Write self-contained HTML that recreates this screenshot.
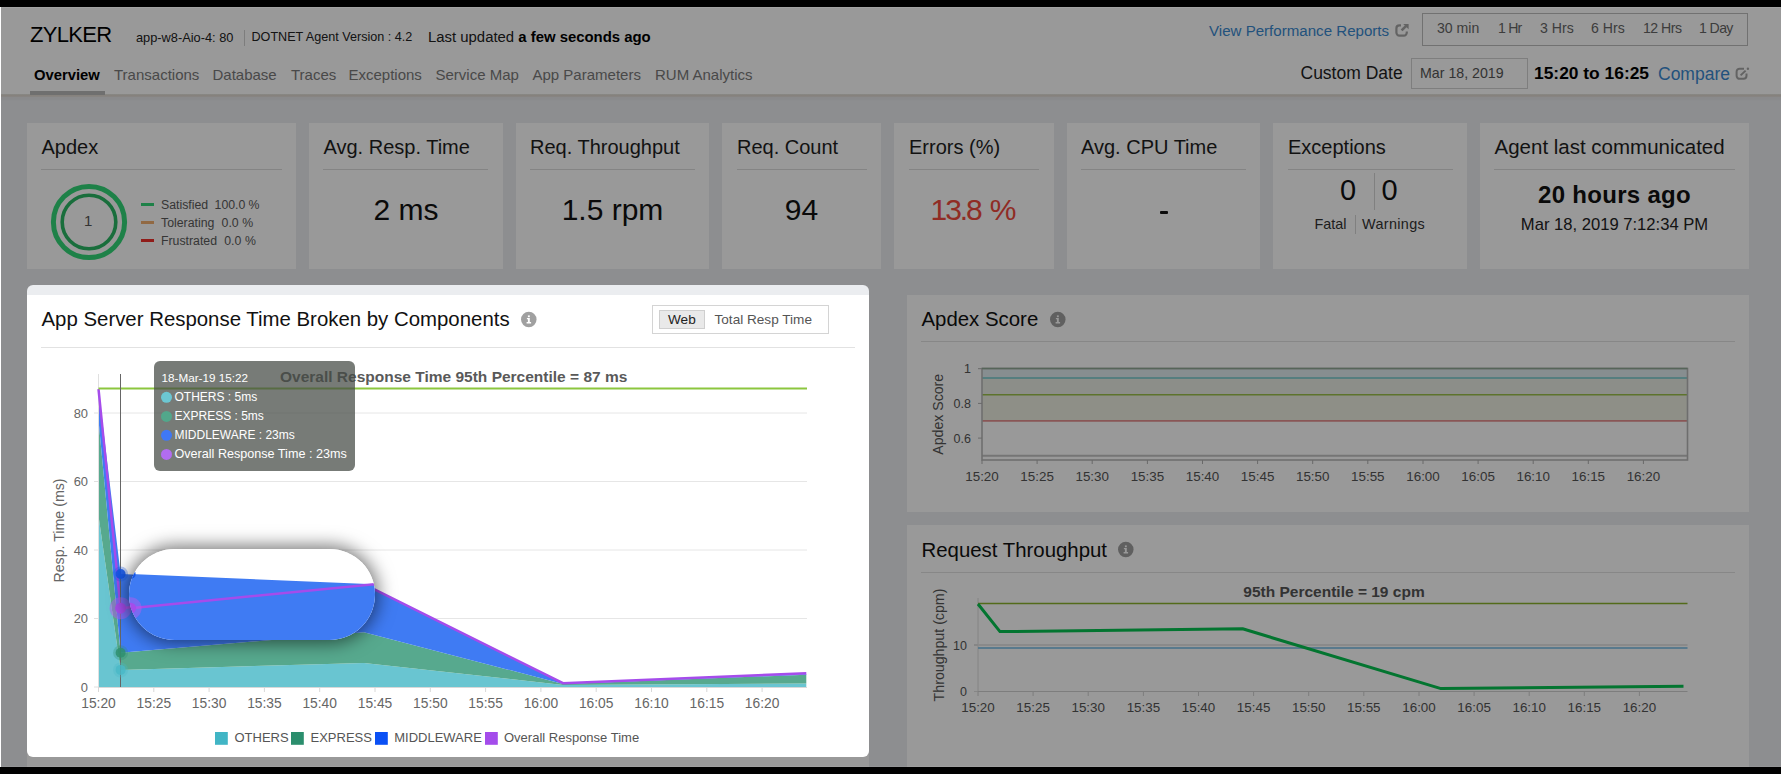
<!DOCTYPE html>
<html><head><meta charset="utf-8">
<style>
*{box-sizing:border-box}
html,body{margin:0;padding:0}
body{width:1781px;height:774px;overflow:hidden;position:relative;background:#ebedf0;font-family:"Liberation Sans",sans-serif;color:#000}
.a{position:absolute;white-space:nowrap;line-height:1}
.card{position:absolute;top:123px;height:146px;background:#fff}
.ct{position:absolute;font-size:20px;color:#1e1e1e;top:137px;line-height:1;white-space:nowrap}
.sep{position:absolute;height:1px;background:#dcdcdc;top:169px}
.val{position:absolute;font-size:30px;color:#111;top:195px;line-height:1;white-space:nowrap;text-align:center}
.nav{position:absolute;top:67px;font-size:15px;color:#7a7a7a;line-height:1;white-space:nowrap}
.tr{position:absolute;top:21px;font-size:14.1px;color:#666;line-height:1;white-space:nowrap}
svg{position:absolute;left:0;top:0;overflow:visible}
</style></head><body>

<!-- left white column -->
<div class="a" style="left:0;top:0;width:1px;height:774px;background:#fff;z-index:50"></div>

<!-- ============ HEADER ============ -->
<div class="a" style="left:0;top:7px;width:1781px;height:87px;background:#fff"></div>
<div class="a" style="left:0;top:94px;width:1781px;height:7px;background:linear-gradient(#e4e4df,#ddd5cb 28%,#e6e6e8 45%,#e7e8eb 80%,#ebedf0)"></div>
<div class="a" style="left:30px;top:23.5px;font-size:22px;letter-spacing:-.7px;color:#000">ZYLKER</div>
<div class="a" style="left:136px;top:31.5px;font-size:12.8px;color:#222">app-w8-Aio-4: 80</div>
<div class="a" style="left:244px;top:30px;width:1px;height:16px;background:#d0d0d0"></div>
<div class="a" style="left:251.5px;top:31px;font-size:12.6px;color:#222">DOTNET Agent Version : 4.2</div>
<div class="a" style="left:428px;top:30px;font-size:14.9px;color:#222">Last updated <b style="color:#000">a few seconds ago</b></div>

<div class="nav" style="left:34px;top:68px;color:#000;font-weight:bold;font-size:14.8px">Overview</div>
<div class="a" style="left:30px;top:91px;width:75px;height:4px;background:#bababa"></div>
<div class="nav" style="left:114px">Transactions</div>
<div class="nav" style="left:212.5px">Database</div>
<div class="nav" style="left:291px">Traces</div>
<div class="nav" style="left:348.5px">Exceptions</div>
<div class="nav" style="left:435.5px">Service Map</div>
<div class="nav" style="left:532.5px">App Parameters</div>
<div class="nav" style="left:655px">RUM Analytics</div>

<div class="a" style="left:1209px;top:23px;font-size:15.1px;color:#3a89d0">View Performance Reports</div>
<svg width="16" height="16" style="left:1394px;top:22px" viewBox="0 0 16 16">
  <path d="M7 3.4H5.4A3 3 0 0 0 2.4 6.4V10.6A3 3 0 0 0 5.4 13.6H9.8A3 3 0 0 0 12.8 10.6V9.6" fill="none" stroke="#a6a6a6" stroke-width="2.2"/>
  <path d="M7.6 8.4L12.2 3.8" fill="none" stroke="#a6a6a6" stroke-width="2.6"/>
  <path d="M9.2 1.9H14.6V7.3z" fill="#a6a6a6"/>
</svg>
<div class="a" style="left:1422px;top:13px;width:326px;height:33px;border:1px solid #bdbdbd"></div>
<div class="tr" style="left:1437px">30 min</div>
<div class="tr" style="left:1498px;letter-spacing:-.8px">1 Hr</div>
<div class="tr" style="left:1540px">3 Hrs</div>
<div class="tr" style="left:1591px">6 Hrs</div>
<div class="tr" style="left:1643px;letter-spacing:-.5px">12 Hrs</div>
<div class="tr" style="left:1699px;letter-spacing:-.6px">1 Day</div>

<div class="a" style="left:1300.5px;top:65px;font-size:17.5px;color:#1e1e1e">Custom Date</div>
<div class="a" style="left:1411px;top:58px;width:117px;height:31px;border:1px solid #d2d2d2"></div>
<div class="a" style="left:1420px;top:66px;font-size:14.2px;color:#555">Mar 18, 2019</div>
<div class="a" style="left:1534px;top:65px;font-size:17.4px;color:#000;font-weight:bold">15:20 to 16:25</div>
<div class="a" style="left:1658px;top:65.5px;font-size:17.5px;color:#3a89d0">Compare</div>
<svg width="14" height="14" style="left:1735px;top:67px" viewBox="0 0 14 14">
  <path d="M9 1.7H4.6A3 3 0 0 0 1.6 4.7V8.8A3 3 0 0 0 4.6 11.8H8.5A3 3 0 0 0 11.5 8.8V6.6" fill="none" stroke="#a6a6a6" stroke-width="2"/>
  <path d="M5.6 8.4L10.6 3.6" fill="none" stroke="#a6a6a6" stroke-width="2"/>
  <circle cx="12.9" cy="1.8" r="1.2" fill="#a6a6a6"/>
</svg>

<!-- ============ CARDS ============ -->
<div class="card" style="left:27px;width:269px"></div>
<div class="ct" style="left:41.5px">Apdex</div>
<div class="sep" style="left:41px;width:241px"></div>
<svg width="90" height="90" style="left:43.5px;top:177px" viewBox="0 0 90 90">
  <circle cx="45" cy="45" r="35.6" fill="none" stroke="#33d878" stroke-width="5"/>
  <circle cx="45" cy="45" r="26.8" fill="none" stroke="#2ab764" stroke-width="3.6"/>
</svg>
<div class="a" style="left:84px;top:213px;font-size:15px;color:#555">1</div>
<div class="a" style="left:141px;top:203px;width:13px;height:3px;background:#33d878"></div>
<div class="a" style="left:141px;top:221px;width:13px;height:3px;background:#f2b070"></div>
<div class="a" style="left:141px;top:239px;width:13px;height:3px;background:#f0302a"></div>
<div class="a" style="left:161px;top:198.5px;font-size:12.3px;color:#5a5a5a;word-spacing:-.2px">Satisfied&nbsp; 100.0 %</div>
<div class="a" style="left:161px;top:216.5px;font-size:12.3px;color:#5a5a5a;word-spacing:.2px">Tolerating&nbsp; 0.0 %</div>
<div class="a" style="left:161px;top:234.5px;font-size:12.3px;color:#5a5a5a;word-spacing:.2px">Frustrated&nbsp; 0.0 %</div>

<div class="card" style="left:309px;width:194px"></div>
<div class="ct" style="left:323.5px">Avg. Resp. Time</div>
<div class="sep" style="left:323px;width:165px"></div>
<div class="val" style="left:309px;width:194px">2 ms</div>

<div class="card" style="left:516px;width:193px"></div>
<div class="ct" style="left:530px">Req. Throughput</div>
<div class="sep" style="left:530px;width:165px"></div>
<div class="val" style="left:516px;width:193px">1.5 rpm</div>

<div class="card" style="left:722px;width:159px"></div>
<div class="ct" style="left:737px">Req. Count</div>
<div class="sep" style="left:737px;width:130px"></div>
<div class="val" style="left:722px;width:159px">94</div>

<div class="card" style="left:894px;width:160px"></div>
<div class="ct" style="left:909px">Errors (%)</div>
<div class="sep" style="left:909px;width:130px"></div>
<div class="val" style="left:892.5px;width:160px;color:#f04a3c;font-size:30px;letter-spacing:-2.1px;word-spacing:3px;top:195px">13.8 %</div>

<div class="card" style="left:1067px;width:193px"></div>
<div class="ct" style="left:1081px">Avg. CPU Time</div>
<div class="sep" style="left:1081px;width:165px"></div>
<div class="a" style="left:1159.5px;top:211px;width:8px;height:2.6px;background:#151515;border-radius:1px"></div>

<div class="card" style="left:1273px;width:194px"></div>
<div class="ct" style="left:1288px">Exceptions</div>
<div class="sep" style="left:1288px;width:165px"></div>
<div class="a" style="left:1340px;top:176px;font-size:29px;color:#111">0</div>
<div class="a" style="left:1374px;top:173px;width:1px;height:37px;background:#d5d5d5"></div>
<div class="a" style="left:1381.5px;top:176px;font-size:29px;color:#111">0</div>
<div class="a" style="left:1314.5px;top:217px;font-size:14.4px;color:#333">Fatal</div>
<div class="a" style="left:1355px;top:215px;width:1px;height:19px;background:#d5d5d5"></div>
<div class="a" style="left:1362px;top:217px;font-size:14.4px;letter-spacing:.35px;color:#333">Warnings</div>

<div class="card" style="left:1480px;width:269px"></div>
<div class="ct" style="left:1494.5px;font-size:20.5px">Agent last communicated</div>
<div class="sep" style="left:1494px;width:241px"></div>
<div class="a" style="left:1480px;width:269px;text-align:center;top:182.5px;font-size:24px;font-weight:bold;color:#111;letter-spacing:.3px">20 hours ago</div>
<div class="a" style="left:1480px;width:269px;text-align:center;top:217px;font-size:16.6px;color:#222">Mar 18, 2019 7:12:34 PM</div>

<!-- ============ LEFT CHART PANEL ============ -->
<div class="a" style="left:27px;top:295px;width:842px;height:480px;background:#fff"></div>
<div class="a" style="left:41.5px;top:309px;font-size:20.4px;color:#111">App Server Response Time Broken by Components</div>
<svg width="16" height="16" style="left:521px;top:311.5px" viewBox="0 0 16 16"><circle cx="7.8" cy="7.6" r="7.75" fill="#a0a0a0"/><rect x="6.9" y="3.4" width="1.9" height="1.8" fill="#fff"/><path d="M5.9 6.1h2.9v4h1.3v1.3H5.6v-1.3h1.3V7.3h-1z" fill="#fff"/></svg>
<div class="a" style="left:652px;top:305px;width:177px;height:29px;border:1px solid #d4d4d4"></div>
<div class="a" style="left:659px;top:310px;width:46px;height:19px;border:1px solid #cfcfcf;background:#e9e9e9"></div>
<div class="a" style="left:668px;top:313px;font-size:13.6px;color:#222">Web</div>
<div class="a" style="left:714.5px;top:313px;font-size:13.6px;color:#555">Total Resp Time</div>
<div class="a" style="left:41px;top:347px;width:814px;height:1px;background:#e2e2e2"></div>
<!--BEGIN CHARTL-->
<svg width="1781" height="774" viewBox="0 0 1781 774" style="left:0;top:0">
<line x1="98.5" x2="807" y1="618.5" y2="618.5" stroke="#e6e6e6" stroke-width="1"/>
<line x1="98.5" x2="807" y1="550.0" y2="550.0" stroke="#e6e6e6" stroke-width="1"/>
<line x1="98.5" x2="807" y1="481.5" y2="481.5" stroke="#e6e6e6" stroke-width="1"/>
<line x1="98.5" x2="807" y1="413.0" y2="413.0" stroke="#e6e6e6" stroke-width="1"/>
<text x="88" y="691.6" text-anchor="end" font-size="12.9" fill="#666">0</text>
<line x1="94" x2="98.5" y1="687.0" y2="687.0" stroke="#e0e0e0" stroke-width="1"/>
<text x="88" y="623.1" text-anchor="end" font-size="12.9" fill="#666">20</text>
<line x1="94" x2="98.5" y1="618.5" y2="618.5" stroke="#e0e0e0" stroke-width="1"/>
<text x="88" y="554.6" text-anchor="end" font-size="12.9" fill="#666">40</text>
<line x1="94" x2="98.5" y1="550.0" y2="550.0" stroke="#e0e0e0" stroke-width="1"/>
<text x="88" y="486.1" text-anchor="end" font-size="12.9" fill="#666">60</text>
<line x1="94" x2="98.5" y1="481.5" y2="481.5" stroke="#e0e0e0" stroke-width="1"/>
<text x="88" y="417.6" text-anchor="end" font-size="12.9" fill="#666">80</text>
<line x1="94" x2="98.5" y1="413.0" y2="413.0" stroke="#e0e0e0" stroke-width="1"/>
<line x1="98.5" x2="98.5" y1="687" y2="692" stroke="#d8d8d8" stroke-width="1"/>
<text x="98.5" y="708" text-anchor="middle" font-size="13.8" fill="#666">15:20</text>
<line x1="153.8" x2="153.8" y1="687" y2="692" stroke="#d8d8d8" stroke-width="1"/>
<text x="153.8" y="708" text-anchor="middle" font-size="13.8" fill="#666">15:25</text>
<line x1="209.1" x2="209.1" y1="687" y2="692" stroke="#d8d8d8" stroke-width="1"/>
<text x="209.1" y="708" text-anchor="middle" font-size="13.8" fill="#666">15:30</text>
<line x1="264.4" x2="264.4" y1="687" y2="692" stroke="#d8d8d8" stroke-width="1"/>
<text x="264.4" y="708" text-anchor="middle" font-size="13.8" fill="#666">15:35</text>
<line x1="319.7" x2="319.7" y1="687" y2="692" stroke="#d8d8d8" stroke-width="1"/>
<text x="319.7" y="708" text-anchor="middle" font-size="13.8" fill="#666">15:40</text>
<line x1="375.0" x2="375.0" y1="687" y2="692" stroke="#d8d8d8" stroke-width="1"/>
<text x="375.0" y="708" text-anchor="middle" font-size="13.8" fill="#666">15:45</text>
<line x1="430.3" x2="430.3" y1="687" y2="692" stroke="#d8d8d8" stroke-width="1"/>
<text x="430.3" y="708" text-anchor="middle" font-size="13.8" fill="#666">15:50</text>
<line x1="485.6" x2="485.6" y1="687" y2="692" stroke="#d8d8d8" stroke-width="1"/>
<text x="485.6" y="708" text-anchor="middle" font-size="13.8" fill="#666">15:55</text>
<line x1="540.9" x2="540.9" y1="687" y2="692" stroke="#d8d8d8" stroke-width="1"/>
<text x="540.9" y="708" text-anchor="middle" font-size="13.8" fill="#666">16:00</text>
<line x1="596.2" x2="596.2" y1="687" y2="692" stroke="#d8d8d8" stroke-width="1"/>
<text x="596.2" y="708" text-anchor="middle" font-size="13.8" fill="#666">16:05</text>
<line x1="651.5" x2="651.5" y1="687" y2="692" stroke="#d8d8d8" stroke-width="1"/>
<text x="651.5" y="708" text-anchor="middle" font-size="13.8" fill="#666">16:10</text>
<line x1="706.8" x2="706.8" y1="687" y2="692" stroke="#d8d8d8" stroke-width="1"/>
<text x="706.8" y="708" text-anchor="middle" font-size="13.8" fill="#666">16:15</text>
<line x1="762.1" x2="762.1" y1="687" y2="692" stroke="#d8d8d8" stroke-width="1"/>
<text x="762.1" y="708" text-anchor="middle" font-size="13.8" fill="#666">16:20</text>
<polygon points="98.5,515.8 120.6,669.9 363.9,663.0 563.0,684.9 806.3,683.6 806.3,687 98.5,687" fill="#69c5d1"/>
<polygon points="98.5,419.9 120.6,652.8 363.9,632.2 563.0,683.9 806.3,674.7 806.3,683.6 563.0,684.9 363.9,663.0 120.6,669.9 98.5,515.8" fill="#57a98e"/>
<polygon points="98.5,389.0 120.6,574.0 363.9,584.2 563.0,683.2 806.3,674.0 806.3,674.7 563.0,683.9 363.9,632.2 120.6,652.8 98.5,419.9" fill="#3f7bf3"/>
<line x1="98.5" x2="98.5" y1="374" y2="687" stroke="#e0e0e0" stroke-width="1"/>
<line x1="98.5" x2="807" y1="687.5" y2="687.5" stroke="#d8d8d8" stroke-width="1"/>
<polyline points="98.5,389.0 120.6,608.2 363.9,584.2 563.0,683.2 806.3,673.3" fill="none" stroke="#a54ceb" stroke-width="2.5" stroke-linejoin="round"/>
<line x1="98.5" x2="807" y1="388.5" y2="388.5" stroke="#8cc63f" stroke-width="2"/>
<text x="280" y="382" font-size="15.5" font-weight="bold" fill="#595959">Overall Response Time 95th Percentile = 87 ms</text>
<line x1="120.5" x2="120.5" y1="374" y2="687" stroke="#666" stroke-width="1"/>
<circle cx="120.6" cy="669.9" r="7.5" fill="#48b8c7" opacity=".3"/>
<circle cx="120.6" cy="669.9" r="5" fill="#48b8c7" opacity=".8"/>
<circle cx="120.6" cy="652.8" r="7.5" fill="#2e8f6e" opacity=".3"/>
<circle cx="120.6" cy="652.8" r="5" fill="#2e8f6e" opacity=".85"/>
<circle cx="120.6" cy="574.0" r="7.5" fill="#1456e8" opacity=".3"/>
<circle cx="120.6" cy="574.0" r="5" fill="#1456e8" opacity=".9"/>
<circle cx="120.6" cy="608.2" r="11" fill="#b45cf0" opacity=".5"/>
<circle cx="120.6" cy="608.2" r="5.5" fill="#a54ceb"/>
<text transform="translate(64 530.5) rotate(-90)" text-anchor="middle" font-size="14.2" fill="#666">Resp. Time (ms)</text>
<rect x="215" y="732" width="12.8" height="12.8" fill="#41b5c5"/>
<text x="234.5" y="741.7" font-size="13" fill="#555">OTHERS</text>
<rect x="291" y="732" width="12.8" height="12.8" fill="#2b8e6d"/>
<text x="310.5" y="741.7" font-size="13" fill="#555">EXPRESS</text>
<rect x="375" y="732" width="12.8" height="12.8" fill="#0a50f5"/>
<text x="394.2" y="741.7" font-size="13" fill="#555">MIDDLEWARE</text>
<rect x="485" y="732" width="12.8" height="12.8" fill="#a44ceb"/>
<text x="504" y="741.7" font-size="13" fill="#555">Overall Response Time</text>
<rect x="154" y="361" width="201" height="110" rx="6" fill="rgba(68,74,68,0.73)"/>
<text x="161.5" y="381.7" font-size="11.7" fill="#fff">18-Mar-19 15:22</text>
<circle cx="166.5" cy="397.3" r="5.5" fill="#6cc7d3"/>
<text x="174.5" y="401.2" font-size="12.0" fill="#fff">OTHERS : 5ms</text>
<circle cx="166.5" cy="416.4" r="5.5" fill="#52a78b"/>
<text x="174.5" y="420.3" font-size="12.0" fill="#fff">EXPRESS : 5ms</text>
<circle cx="166.5" cy="435.3" r="5.5" fill="#3f78f5"/>
<text x="174.5" y="439.2" font-size="12.0" fill="#fff">MIDDLEWARE : 23ms</text>
<circle cx="166.5" cy="454.4" r="5.5" fill="#b26cf0"/>
<text x="174.5" y="458.3" font-size="12.6" fill="#fff">Overall Response Time : 23ms</text>
</svg>
<div class="a" style="left:129px;top:549px;width:246px;height:91px;border-radius:46px;overflow:hidden;box-shadow:0 0 18px 3px rgba(0,0,0,.55)">
<svg width="246" height="91" viewBox="119 549 246 91" style="left:0;top:0">
<rect x="100" y="540" width="300" height="110" fill="#fff"/>
<polygon points="90,571.9 120.6,574.0 363.9,584.2 563.0,683.2 400,700 90,700" fill="#3f7bf3"/>
<polyline points="120.6,608.2 363.9,584.2 563.0,683.2" fill="none" stroke="#a54ceb" stroke-width="2.5"/>
<circle cx="120.6" cy="574.0" r="5" fill="#1456e8"/>
<circle cx="120.6" cy="608.2" r="11" fill="#b45cf0" opacity=".5"/>
<circle cx="120.6" cy="608.2" r="5.5" fill="#a54ceb"/>
</svg></div>
<!--END CHARTL-->


<!-- ============ RIGHT PANELS ============ -->
<div class="a" style="left:907px;top:295px;width:842px;height:217px;background:#fff"></div>
<div class="a" style="left:907px;top:525px;width:842px;height:260px;background:#fff"></div>
<div class="a" style="left:921.5px;top:309px;font-size:20.4px;color:#111">Apdex Score</div>
<svg width="16" height="16" style="left:1049.5px;top:311.5px" viewBox="0 0 16 16"><circle cx="7.8" cy="7.6" r="7.75" fill="#a0a0a0"/><rect x="6.9" y="3.4" width="1.9" height="1.8" fill="#fff"/><path d="M5.9 6.1h2.9v4h1.3v1.3H5.6v-1.3h1.3V7.3h-1z" fill="#fff"/></svg>
<div class="a" style="left:921px;top:341px;width:814px;height:1px;background:#e2e2e2"></div>
<div class="a" style="left:921.5px;top:540px;font-size:20.4px;color:#111">Request Throughput</div>
<svg width="16" height="16" style="left:1118px;top:541.5px" viewBox="0 0 16 16"><circle cx="7.8" cy="7.6" r="7.75" fill="#a0a0a0"/><rect x="6.9" y="3.4" width="1.9" height="1.8" fill="#fff"/><path d="M5.9 6.1h2.9v4h1.3v1.3H5.6v-1.3h1.3V7.3h-1z" fill="#fff"/></svg>
<div class="a" style="left:921px;top:572px;width:814px;height:1px;background:#e2e2e2"></div>
<!--BEGIN CHARTR-->
<svg width="1781" height="774" viewBox="0 0 1781 774" style="left:0;top:0">
<rect x="982" y="368.5" width="705.5" height="9.6" fill="#e2edf0"/>
<rect x="982" y="378.1" width="705.5" height="16.7" fill="#e9ede5"/>
<rect x="982" y="394.7" width="705.5" height="26.0" fill="#edeee2"/>
<line x1="982" x2="1687.5" y1="378.1" y2="378.1" stroke="#72c8cc" stroke-width="1.5"/>
<line x1="982" x2="1687.5" y1="394.7" y2="394.7" stroke="#9cc04a" stroke-width="1.5"/>
<line x1="982" x2="1687.5" y1="420.8" y2="420.8" stroke="#e58f8f" stroke-width="1.7"/>
<line x1="982" x2="1687.5" y1="455.8" y2="455.8" stroke="#c4c4c4" stroke-width="2"/>
<rect x="982" y="368.5" width="705.5" height="91.5" fill="none" stroke="#b8b8b8" stroke-width="1.6"/>
<line x1="982" x2="1687.5" y1="368.5" y2="368.5" stroke="#8fa894" stroke-width="1.6"/>
<line x1="978" x2="982" y1="368.7" y2="368.7" stroke="#b0b0b0" stroke-width="1"/>
<text x="971" y="373.2" text-anchor="end" font-size="12.5" fill="#555">1</text>
<line x1="978" x2="982" y1="403.4" y2="403.4" stroke="#b0b0b0" stroke-width="1"/>
<text x="971" y="407.9" text-anchor="end" font-size="12.5" fill="#555">0.8</text>
<line x1="978" x2="982" y1="438.1" y2="438.1" stroke="#b0b0b0" stroke-width="1"/>
<text x="971" y="442.6" text-anchor="end" font-size="12.5" fill="#555">0.6</text>
<line x1="982.0" x2="982.0" y1="460" y2="464" stroke="#b0b0b0" stroke-width="1"/>
<text x="982.0" y="480.7" text-anchor="middle" font-size="13.4" fill="#555">15:20</text>
<line x1="1037.1" x2="1037.1" y1="460" y2="464" stroke="#b0b0b0" stroke-width="1"/>
<text x="1037.1" y="480.7" text-anchor="middle" font-size="13.4" fill="#555">15:25</text>
<line x1="1092.2" x2="1092.2" y1="460" y2="464" stroke="#b0b0b0" stroke-width="1"/>
<text x="1092.2" y="480.7" text-anchor="middle" font-size="13.4" fill="#555">15:30</text>
<line x1="1147.4" x2="1147.4" y1="460" y2="464" stroke="#b0b0b0" stroke-width="1"/>
<text x="1147.4" y="480.7" text-anchor="middle" font-size="13.4" fill="#555">15:35</text>
<line x1="1202.5" x2="1202.5" y1="460" y2="464" stroke="#b0b0b0" stroke-width="1"/>
<text x="1202.5" y="480.7" text-anchor="middle" font-size="13.4" fill="#555">15:40</text>
<line x1="1257.6" x2="1257.6" y1="460" y2="464" stroke="#b0b0b0" stroke-width="1"/>
<text x="1257.6" y="480.7" text-anchor="middle" font-size="13.4" fill="#555">15:45</text>
<line x1="1312.7" x2="1312.7" y1="460" y2="464" stroke="#b0b0b0" stroke-width="1"/>
<text x="1312.7" y="480.7" text-anchor="middle" font-size="13.4" fill="#555">15:50</text>
<line x1="1367.8" x2="1367.8" y1="460" y2="464" stroke="#b0b0b0" stroke-width="1"/>
<text x="1367.8" y="480.7" text-anchor="middle" font-size="13.4" fill="#555">15:55</text>
<line x1="1423.0" x2="1423.0" y1="460" y2="464" stroke="#b0b0b0" stroke-width="1"/>
<text x="1423.0" y="480.7" text-anchor="middle" font-size="13.4" fill="#555">16:00</text>
<line x1="1478.1" x2="1478.1" y1="460" y2="464" stroke="#b0b0b0" stroke-width="1"/>
<text x="1478.1" y="480.7" text-anchor="middle" font-size="13.4" fill="#555">16:05</text>
<line x1="1533.2" x2="1533.2" y1="460" y2="464" stroke="#b0b0b0" stroke-width="1"/>
<text x="1533.2" y="480.7" text-anchor="middle" font-size="13.4" fill="#555">16:10</text>
<line x1="1588.3" x2="1588.3" y1="460" y2="464" stroke="#b0b0b0" stroke-width="1"/>
<text x="1588.3" y="480.7" text-anchor="middle" font-size="13.4" fill="#555">16:15</text>
<line x1="1643.4" x2="1643.4" y1="460" y2="464" stroke="#b0b0b0" stroke-width="1"/>
<text x="1643.4" y="480.7" text-anchor="middle" font-size="13.4" fill="#555">16:20</text>
<text transform="translate(943 414.3) rotate(-90)" text-anchor="middle" font-size="14.1" fill="#555">Apdex Score</text>
<line x1="978" x2="978" y1="598" y2="691.5" stroke="#dcdcdc" stroke-width="1"/>
<line x1="978" x2="1687.5" y1="691.5" y2="691.5" stroke="#d0d0d0" stroke-width="1"/>
<line x1="978" x2="1687.5" y1="645" y2="645" stroke="#e6e6e6" stroke-width="2"/>
<line x1="974" x2="978" y1="645" y2="645" stroke="#e0e0e0" stroke-width="2"/><line x1="974" x2="978" y1="691.5" y2="691.5" stroke="#e0e0e0" stroke-width="1"/>
<line x1="978" x2="1687.5" y1="648" y2="648" stroke="#94cbec" stroke-width="2"/>
<line x1="978" x2="1687.5" y1="603.5" y2="603.5" stroke="#8ab32c" stroke-width="1.5"/>
<text x="967" y="695.9" text-anchor="end" font-size="12.5" fill="#555">0</text>
<text x="967" y="649.9" text-anchor="end" font-size="12.5" fill="#555">10</text>
<line x1="978.0" x2="978.0" y1="691.5" y2="696" stroke="#d0d0d0" stroke-width="1"/>
<text x="978.0" y="711.5" text-anchor="middle" font-size="13.4" fill="#555">15:20</text>
<line x1="1033.1" x2="1033.1" y1="691.5" y2="696" stroke="#d0d0d0" stroke-width="1"/>
<text x="1033.1" y="711.5" text-anchor="middle" font-size="13.4" fill="#555">15:25</text>
<line x1="1088.2" x2="1088.2" y1="691.5" y2="696" stroke="#d0d0d0" stroke-width="1"/>
<text x="1088.2" y="711.5" text-anchor="middle" font-size="13.4" fill="#555">15:30</text>
<line x1="1143.4" x2="1143.4" y1="691.5" y2="696" stroke="#d0d0d0" stroke-width="1"/>
<text x="1143.4" y="711.5" text-anchor="middle" font-size="13.4" fill="#555">15:35</text>
<line x1="1198.5" x2="1198.5" y1="691.5" y2="696" stroke="#d0d0d0" stroke-width="1"/>
<text x="1198.5" y="711.5" text-anchor="middle" font-size="13.4" fill="#555">15:40</text>
<line x1="1253.6" x2="1253.6" y1="691.5" y2="696" stroke="#d0d0d0" stroke-width="1"/>
<text x="1253.6" y="711.5" text-anchor="middle" font-size="13.4" fill="#555">15:45</text>
<line x1="1308.7" x2="1308.7" y1="691.5" y2="696" stroke="#d0d0d0" stroke-width="1"/>
<text x="1308.7" y="711.5" text-anchor="middle" font-size="13.4" fill="#555">15:50</text>
<line x1="1363.8" x2="1363.8" y1="691.5" y2="696" stroke="#d0d0d0" stroke-width="1"/>
<text x="1363.8" y="711.5" text-anchor="middle" font-size="13.4" fill="#555">15:55</text>
<line x1="1419.0" x2="1419.0" y1="691.5" y2="696" stroke="#d0d0d0" stroke-width="1"/>
<text x="1419.0" y="711.5" text-anchor="middle" font-size="13.4" fill="#555">16:00</text>
<line x1="1474.1" x2="1474.1" y1="691.5" y2="696" stroke="#d0d0d0" stroke-width="1"/>
<text x="1474.1" y="711.5" text-anchor="middle" font-size="13.4" fill="#555">16:05</text>
<line x1="1529.2" x2="1529.2" y1="691.5" y2="696" stroke="#d0d0d0" stroke-width="1"/>
<text x="1529.2" y="711.5" text-anchor="middle" font-size="13.4" fill="#555">16:10</text>
<line x1="1584.3" x2="1584.3" y1="691.5" y2="696" stroke="#d0d0d0" stroke-width="1"/>
<text x="1584.3" y="711.5" text-anchor="middle" font-size="13.4" fill="#555">16:15</text>
<line x1="1639.4" x2="1639.4" y1="691.5" y2="696" stroke="#d0d0d0" stroke-width="1"/>
<text x="1639.4" y="711.5" text-anchor="middle" font-size="13.4" fill="#555">16:20</text>
<polyline points="978.0,604.0 1000.0,631.6 1242.6,628.8 1441.0,688.6 1683.5,686.3" fill="none" stroke="#05c350" stroke-width="3" stroke-linejoin="round"/>
<text x="1334" y="597" text-anchor="middle" font-size="15.5" font-weight="bold" fill="#555">95th Percentile = 19 cpm</text>
<text transform="translate(944 645) rotate(-90)" text-anchor="middle" font-size="14.2" fill="#555">Throughput (cpm)</text>
</svg>
<!--END CHARTR-->

<!-- overlay -->
<div class="a" style="left:1px;top:0;width:1780px;height:774px;overflow:hidden;z-index:40">
  <div class="a" style="left:26px;top:285px;width:842px;height:472px;border-radius:6px;box-shadow:0 0 0 3000px rgba(0,0,0,.4)"></div>
</div>

<!-- black bars -->
<div class="a" style="left:0;top:0;width:1781px;height:7px;background:#000;z-index:60"></div>
<div class="a" style="left:0;top:767px;width:1781px;height:7px;background:#000;z-index:60"></div>
<div class="a" style="left:1px;top:7px;width:1780px;height:1px;background:rgba(255,255,255,.09);z-index:60"></div>
<div class="a" style="left:1px;top:766px;width:1780px;height:1px;background:rgba(255,255,255,.06);z-index:60"></div>
</body></html>
